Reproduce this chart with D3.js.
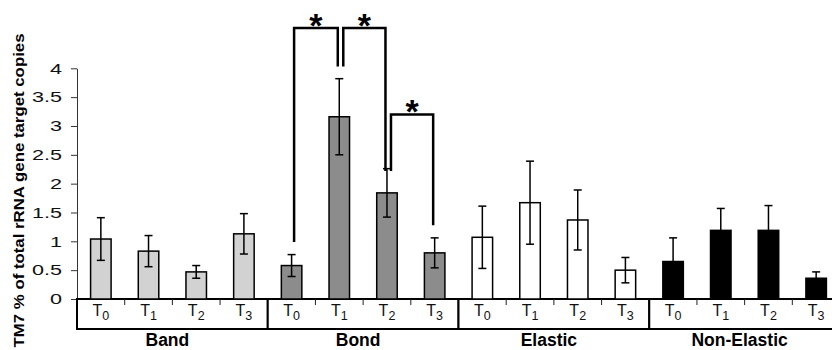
<!DOCTYPE html>
<html lang="en">
<meta charset="utf-8">
<title>TM7 bars</title>
<style>
    body { margin: 0; background: #fff; }
    svg  { display: block; font-family: "Liberation Sans", Arial, sans-serif; }
</style>
<body>
<svg id="canvas"></svg>
<script src="https://cdn.jsdelivr.net/npm/d3@7"></script>
<script>

    /////////////////////// Data //////////////////////
    var groups          = ["Band", "Bond", "Elastic", "Non-Elastic"];
    var times           = ["0", "1", "2", "3"];
    var bandMeans       = [1.04, 0.83, 0.47, 1.13];
    var bandErr         = [0.37, 0.27, 0.11, 0.35];
    var bondMeans       = [0.58, 3.16, 1.84, 0.80];
    var bondErr         = [0.19, 0.66, 0.42, 0.26];
    var elasticMeans    = [1.07, 1.67, 1.37, 0.50];
    var elasticErr      = [0.54, 0.72, 0.52, 0.22];
    var nonElasticMeans = [0.65, 1.19, 1.19, 0.36];
    var nonElasticErr   = [0.41, 0.38, 0.43, 0.11];
    var yTicks          = [0, 0.5, 1, 1.5, 2, 2.5, 3, 3.5, 4];
    var yTickLabels     = ["0", "0.5", "1", "1.5", "2", "2.5", "3", "3.5", "4"];
    var yTitle          = "TM7 % of total rRNA gene target copies";

    // significance brackets (all within "Bond")
    var sigGroup        = "Bond";
    var sigFrom         = ["0", "1", "2"];
    var sigTo           = ["1", "2", "3"];
    var sigLeftEnd      = [0.99, 4.03, 2.22];
    var sigRightEnd     = [4.03, 2.22, 1.28];
    var sigTop          = [4.70, 4.70, 3.20];
    var sigLabel        = ["*", "*", "*"];
    ///////////////////////////////////////////////////

    ///////////////// Style Variables /////////////////
    var width        = 832;
    var height       = 350;
    var axis_x       = 77;
    var plot_right   = 840;
    var base_y       = 299;
    var top_y        = 68.3;
    var box_bottom   = 329;
    var group_colors = ["#d2d2d2", "#8c8c8c", "#ffffff", "#000000"];
    var bar_frac     = 0.43;
    var cap_half     = 4;
    var tick_sx      = 1.08;
    ///////////////////////////////////////////////////

    var means = [bandMeans, bondMeans, elasticMeans, nonElasticMeans];
    var errs  = [bandErr, bondErr, elasticErr, nonElasticErr];
    var rows  = [];
    groups.forEach(function (g, gi) {
        times.forEach(function (t, ti) {
            rows.push({ group: g, time: t, gi: gi, mean: means[gi][ti], err: errs[gi][ti] });
        });
    });

    var svg = d3.select("#canvas")
        .attr('width',  width)
        .attr('height', height);

    var y  = d3.scaleLinear().domain([0, 4]).range([base_y, top_y]);
    var x0 = d3.scaleBand().domain(groups).range([axis_x, plot_right]);
    var x1 = d3.scaleBand().domain(times).range([0, x0.bandwidth()]);
    var bar_w = x1.bandwidth() * bar_frac;
    function cx(g, t) { return x0(g) + x1(t) + x1.bandwidth() / 2; }

    //////////////////// y axis ///////////////////////
    var yAxis = svg.append("g")
        .attr('transform', 'translate(' + axis_x + ',0)')
        .call(d3.axisLeft(y)
                .tickValues(yTicks)
                .tickFormat(function (d, i) { return yTickLabels[i]; })
                .tickSize(6)
                .tickSizeOuter(0)
                .tickPadding(8));
    yAxis.select(".domain").attr('stroke', '#333');
    yAxis.selectAll(".tick line").attr('stroke', '#333');
    yAxis.selectAll(".tick text")
        .attr('font-size', 20)
        .attr('font-family', '"Liberation Sans", Arial, sans-serif')
        .attr('fill', '#111')
        .attr('transform', 'scale(' + tick_sx + ',0.74)');

    svg.append("text")
        .attr('transform', 'translate(23.5,' + 190.5 + ') rotate(-90)')
        .attr('text-anchor', 'middle')
        .attr('font-weight', 'bold')
        .attr('font-size', 15)
        .attr('textLength', 314)
        .attr('lengthAdjust', 'spacingAndGlyphs')
        .text(yTitle);
    ///////////////////////////////////////////////////

    ////////////////// category boxes /////////////////
    svg.selectAll(".gbox").data(groups).join("rect")
        .attr('class', 'gbox')
        .attr('x', function (g) { return x0(g); })
        .attr('y', base_y)
        .attr('width', x0.bandwidth())
        .attr('height', box_bottom - base_y)
        .attr('fill', 'white')
        .attr('stroke', 'black')
        .attr('stroke-width', 2);

    // small ticks between time points
    var inner = [];
    groups.forEach(function (g) { times.slice(1).forEach(function (t) { inner.push(x0(g) + x1(t)); }); });
    svg.selectAll(".itick").data(inner).join("line")
        .attr('x1', function (d) { return d; })
        .attr('x2', function (d) { return d; })
        .attr('y1', base_y)
        .attr('y2', base_y + 6)
        .attr('stroke', '#222')
        .attr('stroke-width', 1);

    // T labels
    var tl = svg.selectAll(".tlab").data(rows).join("text")
        .attr('class', 'tlab')
        .attr('x', function (d) { return cx(d.group, d.time); })
        .attr('y', 316)
        .attr('text-anchor', 'middle')
        .attr('font-size', 16)
        .attr('fill', '#111');
    tl.append("tspan").text("T");
    tl.append("tspan").attr('dy', 4).attr('font-size', 12.5).text(function (d) { return d.time; });

    // group labels
    svg.selectAll(".glab").data(groups).join("text")
        .attr('x', function (g) { return x0(g) + x0.bandwidth() / 2 - 5; })
        .attr('y', 346)
        .attr('text-anchor', 'middle')
        .attr('font-weight', 'bold')
        .attr('font-size', 17.5)
        .text(function (g) { return g; });
    ///////////////////////////////////////////////////

    /////////////////////// bars //////////////////////
    svg.selectAll(".bar").data(rows).join("rect")
        .attr('x', function (d) { return cx(d.group, d.time) - bar_w / 2; })
        .attr('y', function (d) { return y(d.mean); })
        .attr('width', bar_w)
        .attr('height', function (d) { return base_y - y(d.mean); })
        .attr('fill', function (d) { return group_colors[d.gi]; })
        .attr('stroke', 'black')
        .attr('stroke-width', 1.5);

    var eb = svg.selectAll(".eb").data(rows).join("g")
        .attr('stroke', 'black')
        .attr('stroke-width', 1.5);
    eb.append("line")
        .attr('x1', function (d) { return cx(d.group, d.time); })
        .attr('x2', function (d) { return cx(d.group, d.time); })
        .attr('y1', function (d) { return y(d.mean + d.err); })
        .attr('y2', function (d) { return y(d.mean - d.err); });
    [1, -1].forEach(function (s) {
        eb.append("line")
            .attr('x1', function (d) { return cx(d.group, d.time) - cap_half; })
            .attr('x2', function (d) { return cx(d.group, d.time) + cap_half; })
            .attr('y1', function (d) { return y(d.mean + s * d.err); })
            .attr('y2', function (d) { return y(d.mean + s * d.err); });
    });
    ///////////////////////////////////////////////////

    ////////////////// significance ///////////////////
    sigFrom.forEach(function (f, i) {
        var xl = cx(sigGroup, f) + (i === 0 ? 2.5 : 4);
        var xr = cx(sigGroup, sigTo[i]) - 1.5;
        svg.append("path")
            .attr('d', 'M' + xl + ',' + y(sigLeftEnd[i]) +
                       'V' + y(sigTop[i]) +
                       'H' + xr +
                       'V' + y(sigRightEnd[i]))
            .attr('fill', 'none')
            .attr('stroke', 'black')
            .attr('stroke-width', 2.5);
        svg.append("text")
            .attr('x', (xl + xr) / 2)
            .attr('y', y(sigTop[i]) + 9)
            .attr('text-anchor', 'middle')
            .attr('font-weight', 'bold')
            .attr('font-size', 34)
            .text(sigLabel[i]);
    });
    ///////////////////////////////////////////////////

</script>
</body>
</html>
